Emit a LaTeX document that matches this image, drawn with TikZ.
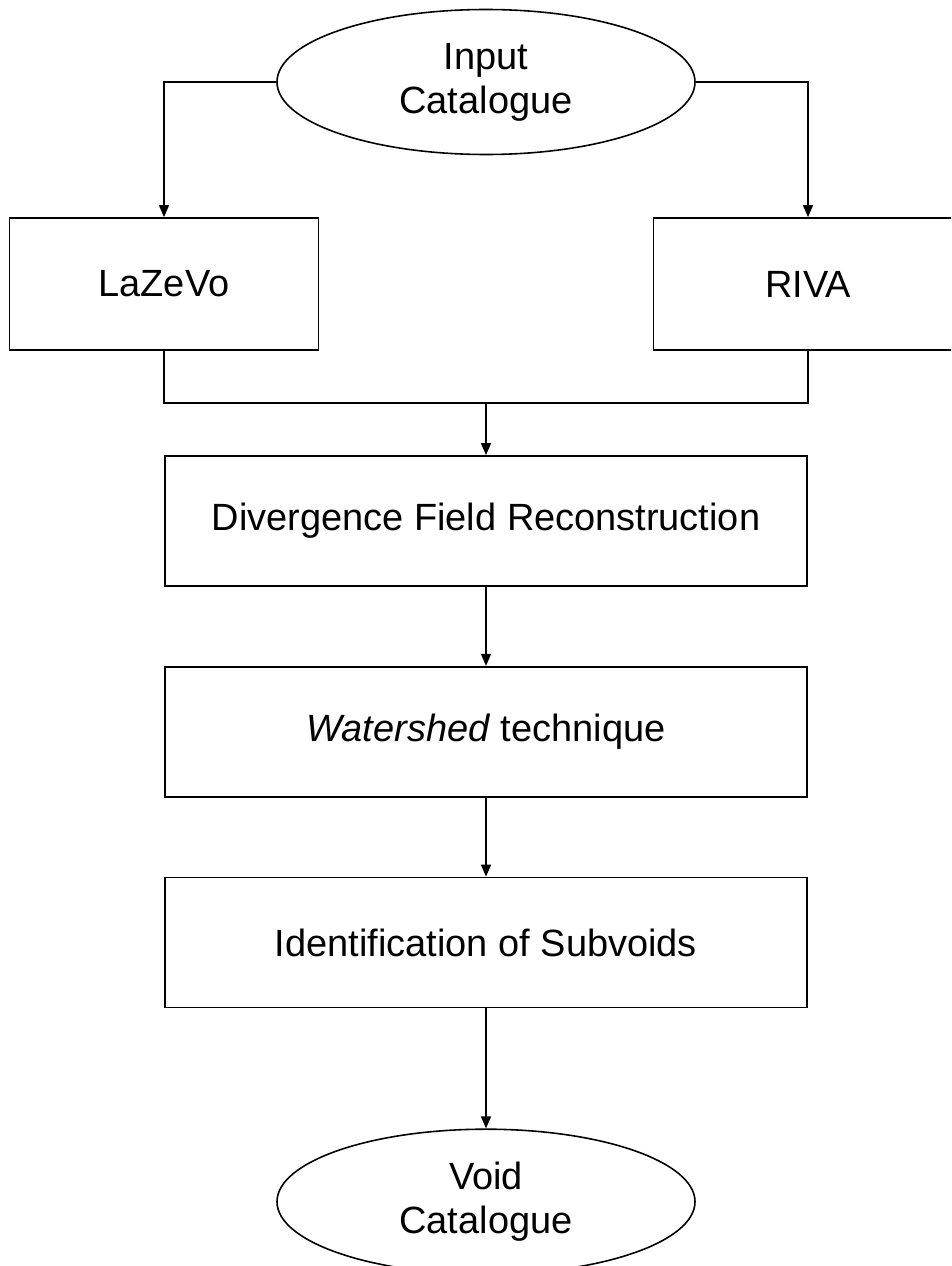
\documentclass[tikz,border=0pt]{standalone}
\usepackage{fontspec}
\setmainfont{Liberation Sans}
\usepackage{tikz}
\usetikzlibrary{arrows.meta,positioning,shapes.geometric,calc}
\tikzset{
    bloco/.style={
        rectangle,
        draw,
        line width=1pt,
        align=center,
        minimum width=12.84cm,
        minimum height=2.6cm
    },
    metodo/.style={bloco, minimum width=6.18cm, minimum height=2.64cm},
    catalogo/.style={
        ellipse,
        draw,
        line width=0.9pt,
        align=center,
        inner sep=0pt,
        minimum width=8.36cm,
        minimum height=2.9cm
    },
    fluxo/.style={-{Triangle[length=2.4mm,width=2mm]}, line width=0.8pt},
    ligacao/.style={line width=0.8pt}
}

\begin{document}
\begin{tikzpicture}[
        node distance=1.58cm,
        every node/.style={font=\fontsize{21.6}{25}\selectfont}
    ]
        \clip (0,0) rectangle (19.02,-25.32);

        \node[catalogo] (entrada) at (9.72,-1.64) {Input\\Catalogue};
        \node[metodo] (lazevo) at (3.28,-5.68) {LaZeVo};
        \node[metodo] (riva) at (16.16,-5.68) {RIVA};
        \node[bloco] (diverg) at (9.72,-10.42) {Divergence Field Reconstruction};
        \node[bloco, below=of diverg] (watershed) {\textit{Watershed} technique};
        \node[bloco, below=1.58cm of watershed] (subvoids) {Identification of Subvoids};
        \node[catalogo, below=2.4cm of subvoids] (vazios) {Void\\Catalogue};

        % the two finders merge before the field step
        \coordinate (juncao) at (9.72,-8.06);

        \draw[fluxo] (entrada.west) -| (lazevo.north);
        \draw[fluxo] (entrada.east) -| (riva.north);
        \draw[ligacao] (lazevo.south) |- (juncao) -| (riva.south);
        \draw[fluxo] (juncao) -- (diverg.north);
        \draw[fluxo] (diverg) -- (watershed);
        \draw[fluxo] (watershed) -- (subvoids);
        \draw[fluxo] (subvoids) -- (vazios);
\end{tikzpicture}
\end{document}
